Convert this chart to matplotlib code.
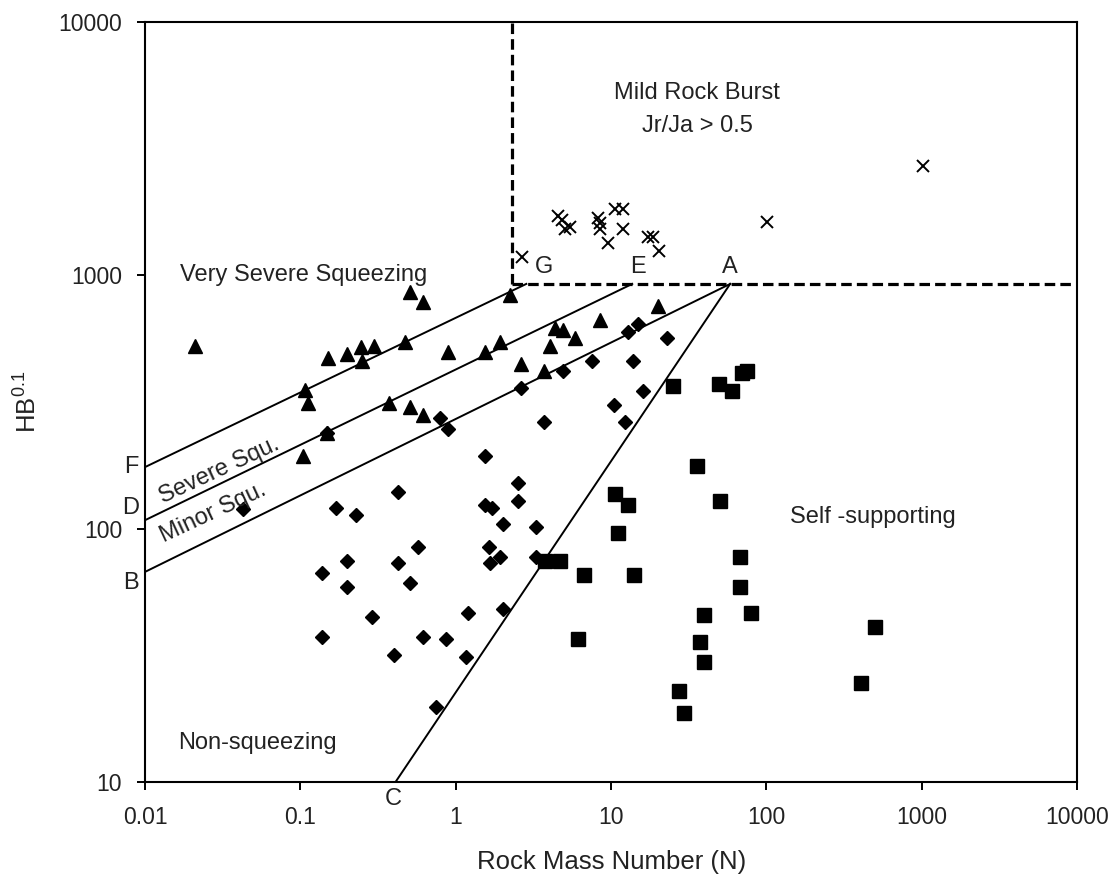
import matplotlib
matplotlib.use('Agg')
import matplotlib.pyplot as plt
from matplotlib.ticker import NullLocator

plt.rcParams['font.family'] = ['Liberation Sans', 'DejaVu Sans']

# ---------------- data ----------------
tri_n = [0.021, 0.508, 0.612, 2.238, 0.151, 0.200, 0.246, 0.249, 0.298, 0.475,
         0.893, 1.534, 1.930, 2.615, 0.107, 0.112, 0.372, 0.508, 0.612, 0.1485,
         0.104, 4.361, 4.909, 5.867, 4.050, 8.50, 20.2, 3.705]
tri_hb = [526, 859, 785, 836, 472, 489, 519, 461, 526, 546,
          496, 496, 546, 445, 353, 313, 313, 302, 281, 239,
          193, 620, 608, 568, 526, 666, 757, 421]

dia_n = [0.793, 0.893, 0.1485, 2.615, 1.534, 2.519, 2.519, 0.425, 0.170, 0.228,
         0.0428, 1.534, 1.714, 2.003, 3.266, 0.572, 1.640, 1.930, 1.664, 3.266,
         0.138, 0.200, 0.425, 0.200, 0.508, 0.289, 1.201, 2.003, 0.138, 0.612,
         0.867, 0.401, 1.166, 0.747, 14.93, 12.87, 22.94, 7.60, 13.86, 4.909,
         16.07, 10.45, 12.22, 3.705]
dia_hb = [273.5, 247.5, 239, 359, 193, 152, 128.6, 139, 120.7, 113.7,
          119.6, 124, 120.7, 104.3, 101.5, 85, 85, 77.3, 73.2, 77.3,
          66.8, 74.6, 73.2, 59.1, 61.0, 44.8, 46.5, 48.0, 37.4, 37.4,
          36.7, 31.7, 31.1, 19.8, 643, 595, 568, 461, 461, 421,
          351, 309, 262.5, 262.5]

sq_n = [24.89, 49.22, 60.56, 69.5, 75.0, 35.8, 10.61, 12.87, 50.3, 11.09,
        3.761, 4.696, 6.704, 14.06, 67.7, 67.7, 79.66, 39.70, 37.41, 39.70,
        6.133, 27.41, 29.51, 501, 407]
sq_hb = [366, 372.5, 351, 412, 419, 176, 137, 124, 128.6, 96.1,
         74.6, 74.6, 65.6, 65.6, 77.3, 59.1, 46.5, 45.6, 35.7, 29.8,
         36.7, 22.9, 18.7, 40.9, 24.6]

x_n = [2.674, 4.559, 4.838, 5.447, 5.058, 8.25, 8.50, 8.50, 9.57, 10.61,
       11.86, 11.86, 17.31, 18.64, 20.23, 101, 1020]
x_hb = [1176, 1715, 1654, 1552, 1517, 1684, 1610, 1517, 1342, 1828,
        1828, 1517, 1411, 1411, 1248, 1624, 2702]

# boundary lines
level_hb = 925                     # horizontal dashed boundary (E-A level)
burst_n = 2.3                      # vertical dashed boundary
start_hb = [175, 108, 67.5]        # F, D, B at N = 0.01
end_n = [2.85, 13.7, 58.5]         # G, E, A on the dashed level
c_n = 0.41                         # C at HB = 10

x_ticks = [0.01, 0.1, 1, 10, 100, 1000, 10000]
x_tick_labels = ['0.01', '0.1', '1', '10', '100', '1000', '10000']
y_ticks = [10, 100, 1000, 10000]
y_tick_labels = ['10', '100', '1000', '10000']

# ---------------- figure ----------------
W, H = 1119, 880
fig = plt.figure(figsize=(W / 100, H / 100), dpi=100)
ax = fig.add_axes([145 / W, 1 - 782 / H, 932 / W, 760 / H])
ax.set_xscale('log')
ax.set_yscale('log')
ax.set_xlim(0.01, 10000)
ax.set_ylim(10, 10000)

# boundary lines
for s, e in zip(start_hb, end_n):
    ax.plot([0.01, e], [s, level_hb], color='black', lw=1.4, zorder=2)
ax.plot([c_n, end_n[2]], [10, level_hb], color='black', lw=1.4, zorder=2)
ax.plot([burst_n, burst_n], [level_hb, 10000], color='black', lw=2.3,
        dashes=(3.3, 1.6), zorder=2)
ax.plot([burst_n, 10000], [level_hb, level_hb], color='black', lw=2.3,
        dashes=(3.3, 1.6), zorder=2)

# data points
ax.plot(tri_n, tri_hb, ls='none', marker='^', ms=9.5, color='black', zorder=3)
ax.plot(dia_n, dia_hb, ls='none', marker='D', ms=6.8, color='black', zorder=3)
ax.plot(sq_n, sq_hb, ls='none', marker='s', ms=10.5, color='black', zorder=3)
ax.plot(x_n, x_hb, ls='none', marker='x', ms=9, mew=1.4, color='black', zorder=3)

# axes styling
ax.set_xticks(x_ticks)
ax.set_xticklabels(x_tick_labels)
ax.set_yticks(y_ticks)
ax.set_yticklabels(y_tick_labels)
ax.xaxis.set_minor_locator(NullLocator())
ax.yaxis.set_minor_locator(NullLocator())
ax.tick_params(axis='both', direction='out', length=5.5, width=1.4,
               labelsize=16.5, labelcolor='#222222')
ax.tick_params(axis='x', pad=12)
ax.tick_params(axis='y', pad=11)
for sp in ax.spines.values():
    sp.set_linewidth(1.5)

fig.text(612 / W, 1 - 862 / H, 'Rock Mass Number (N)', ha='center', va='center',
         fontsize=18.5, color='#222222')
fig.text(27 / W, 1 - 402 / H, r'HB$^{\mathregular{0.1}}$', ha='center', va='center',
         rotation=90, fontsize=18.5, color='#222222')

# region labels
tc = '#222222'
ax.text(35.8, 5250, 'Mild Rock Burst', ha='center', va='center', fontsize=17, color=tc)
ax.text(35.8, 3886, 'Jr/Ja > 0.5', ha='center', va='center', fontsize=17, color=tc)
ax.text(0.0168, 1000, 'Very Severe Squeezing', ha='left', va='center', fontsize=17, color=tc)
ax.text(0.030, 169, 'Severe Squ.', ha='center', va='center', rotation=25,
        rotation_mode='anchor', fontsize=17, color=tc)
ax.text(0.0274, 115, 'Minor Squ.', ha='center', va='center', rotation=25,
        rotation_mode='anchor', fontsize=17, color=tc)
ax.text(142, 111, 'Self -supporting', ha='left', va='center', fontsize=17, color=tc)
ax.text(0.0163, 14.3, 'Non-squeezing', ha='left', va='center', fontsize=17, color=tc)

# point letters
kw = dict(textcoords='offset pixels', fontsize=17, color=tc, annotation_clip=False)
ax.annotate('F', xy=(0.01, start_hb[0]), xytext=(-14, 0), ha='center', va='center', **kw)
ax.annotate('D', xy=(0.01, start_hb[1]), xytext=(-14, 12), ha='center', va='center', **kw)
ax.annotate('B', xy=(0.01, start_hb[2]), xytext=(-14, -11), ha='center', va='center', **kw)
ax.annotate('C', xy=(c_n, 10), xytext=(-2, -17), ha='center', va='center', **kw)
ax.annotate('G', xy=(burst_n, level_hb), xytext=(32, 17), ha='center', va='center', **kw)
ax.annotate('E', xy=(end_n[1], level_hb), xytext=(6, 17), ha='center', va='center', **kw)
ax.annotate('A', xy=(end_n[2], level_hb), xytext=(0, 17), ha='center', va='center', **kw)

fig.savefig('out.png', dpi=100)
